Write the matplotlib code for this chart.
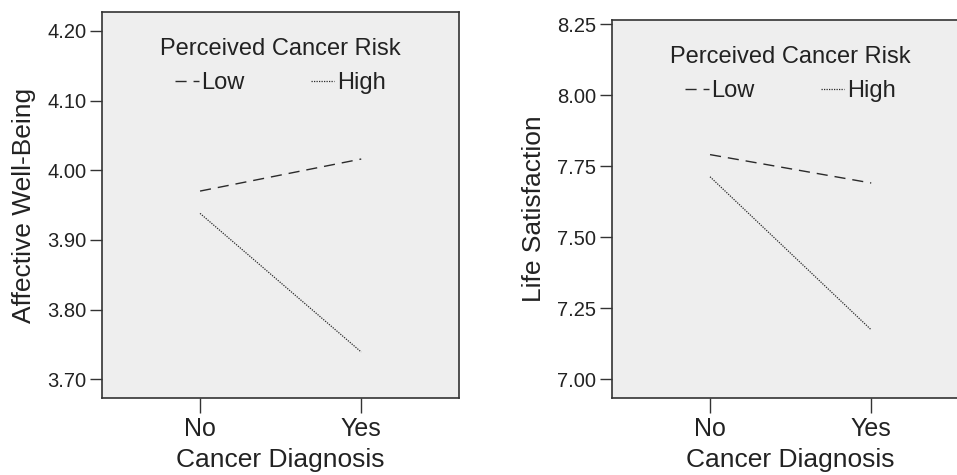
import matplotlib.pyplot as plt

plt.rcParams['font.family'] = ['Liberation Sans', 'DejaVu Sans']

# data
diagnosis = ['No', 'Yes']
risk_groups = ['Low', 'High']
wellbeing_low = [3.970, 4.016]
wellbeing_high = [3.938, 3.739]
satisfaction_low = [7.791, 7.691]
satisfaction_high = [7.713, 7.174]
wellbeing_ticks = [3.70, 3.80, 3.90, 4.00, 4.10, 4.20]
satisfaction_ticks = [7.00, 7.25, 7.50, 7.75, 8.00, 8.25]

line_col = '#2a2a2a'
styles = {'Low': (0, (8, 5)), 'High': (0, (1, 1))}


def draw_panel(ax, low, high, ticks, ylim, ylabel):
    x = list(range(len(diagnosis)))
    ax.set_facecolor('#eeeeee')
    ax.plot(x, low, color=line_col, lw=1.0, linestyle=styles['Low'], label=risk_groups[0])
    ax.plot(x, high, color=line_col, lw=0.9, linestyle=styles['High'], label=risk_groups[1])
    ax.set_xlim(-0.61, 1.607)
    ax.set_ylim(*ylim)
    ax.set_xticks(x)
    ax.set_xticklabels(diagnosis)
    ax.set_yticks(ticks)
    ax.set_yticklabels(['%.2f' % t for t in ticks])
    ax.tick_params(axis='x', direction='out', length=11, width=1, colors='#333333',
                   labelsize=18, labelcolor='#222222', pad=3)
    ax.tick_params(axis='y', direction='out', length=9, width=1, colors='#333333',
                   labelsize=14.5, labelcolor='#222222', pad=2)
    for s in ax.spines.values():
        s.set_color('#333333')
        s.set_linewidth(1.2)
    ax.set_xlabel('Cancer Diagnosis', fontsize=19, color='#222222', labelpad=5)
    ax.set_ylabel(ylabel, fontsize=19, color='#222222', labelpad=8)
    leg = ax.legend(title='Perceived Cancer Risk', ncol=2, frameon=False,
                    loc='upper center', bbox_to_anchor=(0.5, 0.987),
                    fontsize=17, title_fontsize=17, handlelength=1.0,
                    handletextpad=0.1, columnspacing=2.8, labelcolor='#222222',
                    labelspacing=0.5)
    leg.get_title().set_color('#222222')


fig = plt.figure(figsize=(9.57, 4.75), dpi=100)
ax1 = fig.add_axes([0.1063, 0.1621, 0.3734, 0.8126])
ax2 = fig.add_axes([0.6392, 0.1627, 0.3734, 0.7952])

draw_panel(ax1, wellbeing_low, wellbeing_high, wellbeing_ticks, (3.673, 4.227),
           'Affective Well-Being')
draw_panel(ax2, satisfaction_low, satisfaction_high, satisfaction_ticks, (6.935, 8.265),
           'Life Satisfaction')

fig.savefig('out.png', dpi=100)
